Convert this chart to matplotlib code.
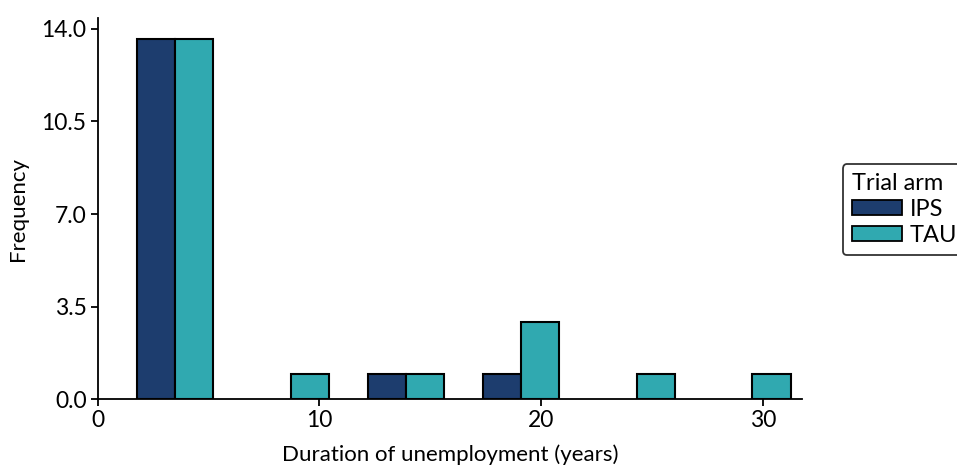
import matplotlib.pyplot as plt
from matplotlib.patches import Patch

plt.rcParams['font.family'] = ['Lato', 'DejaVu Sans']

# bin centres (years) and counts
bin_centres = [3.49, 8.71, 13.91, 19.10, 24.33, 29.53]
ips_counts = [13.6, 0, 0.97, 0.97, 0, 0]
tau_counts = [13.6, 0.97, 0.97, 2.92, 0.97, 0.97]
y_ticks = [0.0, 3.5, 7.0, 10.5, 14.0]
x_ticks = [0, 10, 20, 30]

ips_colour = '#1d3d6e'
tau_colour = '#30a9b0'
half = 1.73

fig = plt.figure(figsize=(9.57, 4.66), dpi=100)
ax = fig.add_axes([0.102, 0.143, 0.736, 0.818])

# skip empty bins so no zero-height outlines sit on the axis
ips_x = [c - half / 2 for c, n in zip(bin_centres, ips_counts) if n > 0]
ips_h = [n for n in ips_counts if n > 0]
tau_x = [c + half / 2 for c, n in zip(bin_centres, tau_counts) if n > 0]
tau_h = [n for n in tau_counts if n > 0]
ax.bar(ips_x, ips_h, width=half, color=ips_colour, edgecolor='black', linewidth=1.5)
ax.bar(tau_x, tau_h, width=half, color=tau_colour, edgecolor='black', linewidth=1.5)

ax.set_xlim(0, 31.77)
ax.set_ylim(0, 14.4)
ax.set_xticks(x_ticks)
ax.set_yticks(y_ticks)
ax.set_yticklabels([f'{t:.1f}' for t in y_ticks])
ax.tick_params(labelsize=16.5, length=5, width=1.3, colors='black', pad=3)
for side in ['top', 'right']:
    ax.spines[side].set_visible(False)
for side in ['left', 'bottom']:
    ax.spines[side].set_linewidth(1.3)

ax.set_xlabel('Duration of unemployment (years)', fontsize=16, labelpad=9)
ax.set_ylabel('Frequency', fontsize=16)
ax.yaxis.set_label_coords(-0.099, 0.5)

handles = [Patch(facecolor=ips_colour, edgecolor='black', linewidth=1.3, label='IPS'),
           Patch(facecolor=tau_colour, edgecolor='black', linewidth=1.3, label='TAU')]
leg = fig.legend(handles=handles, title='Trial arm', loc='upper left',
                 bbox_to_anchor=(0.8805, 0.648), fontsize=17, title_fontsize=17,
                 frameon=True, fancybox=True, edgecolor='black',
                 handlelength=2.1, handleheight=0.6, handletextpad=0.35,
                 borderpad=0.4, labelspacing=0.2, borderaxespad=0)
leg._legend_box.align = 'left'
leg.get_frame().set_linewidth(1.3)

fig.savefig('out.png', dpi=100)
